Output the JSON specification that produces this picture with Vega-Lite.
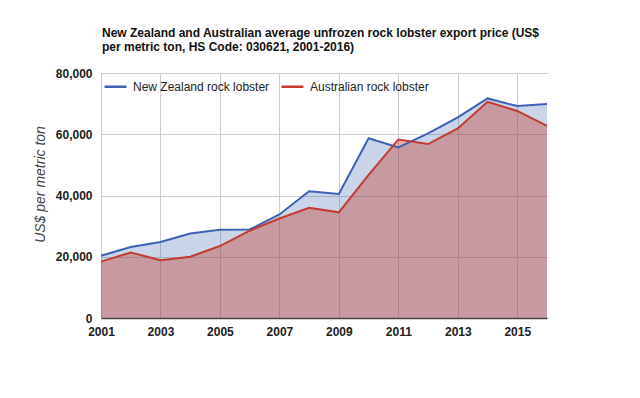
{
  "$schema": "https://vega.github.io/schema/vega-lite/v6.json",
  "width": 446,
  "height": 245,
  "autosize": {"type": "none"},
  "padding": {"left": 101, "top": 73, "right": 93, "bottom": 80},
  "background": "white",
  "title": {
    "text": ["New Zealand and Australian average unfrozen rock lobster export price (US$", "per metric ton, HS Code: 030621, 2001-2016)"],
    "anchor": "start",
    "frame": "group",
    "font": "Liberation Sans",
    "fontSize": 12,
    "fontWeight": "bold",
    "color": "#111",
    "lineHeight": 14,
    "offset": 13,
    "dx": 1
  },
  "config": {
    "view": {"stroke": null},
    "font": "Liberation Sans",
    "title": {"lineHeight": 14}
  },
  "data": {
    "values": [
      {"year": 2001, "series": "New Zealand rock lobster", "value": 20300},
      {"year": 2002, "series": "New Zealand rock lobster", "value": 23200},
      {"year": 2003, "series": "New Zealand rock lobster", "value": 24800},
      {"year": 2004, "series": "New Zealand rock lobster", "value": 27600},
      {"year": 2005, "series": "New Zealand rock lobster", "value": 28800},
      {"year": 2006, "series": "New Zealand rock lobster", "value": 28900},
      {"year": 2007, "series": "New Zealand rock lobster", "value": 33800},
      {"year": 2008, "series": "New Zealand rock lobster", "value": 41400},
      {"year": 2009, "series": "New Zealand rock lobster", "value": 40500},
      {"year": 2010, "series": "New Zealand rock lobster", "value": 58700},
      {"year": 2011, "series": "New Zealand rock lobster", "value": 55700},
      {"year": 2012, "series": "New Zealand rock lobster", "value": 60300},
      {"year": 2013, "series": "New Zealand rock lobster", "value": 65500},
      {"year": 2014, "series": "New Zealand rock lobster", "value": 71700},
      {"year": 2015, "series": "New Zealand rock lobster", "value": 69200},
      {"year": 2016, "series": "New Zealand rock lobster", "value": 69900},
      {"year": 2001, "series": "Australian rock lobster", "value": 18400},
      {"year": 2002, "series": "Australian rock lobster", "value": 21400},
      {"year": 2003, "series": "Australian rock lobster", "value": 18900},
      {"year": 2004, "series": "Australian rock lobster", "value": 20000},
      {"year": 2005, "series": "Australian rock lobster", "value": 23500},
      {"year": 2006, "series": "Australian rock lobster", "value": 28500},
      {"year": 2007, "series": "Australian rock lobster", "value": 32500},
      {"year": 2008, "series": "Australian rock lobster", "value": 36000},
      {"year": 2009, "series": "Australian rock lobster", "value": 34500},
      {"year": 2010, "series": "Australian rock lobster", "value": 46700},
      {"year": 2011, "series": "Australian rock lobster", "value": 58300},
      {"year": 2012, "series": "Australian rock lobster", "value": 56800},
      {"year": 2013, "series": "Australian rock lobster", "value": 61900},
      {"year": 2014, "series": "Australian rock lobster", "value": 70600},
      {"year": 2015, "series": "Australian rock lobster", "value": 67600},
      {"year": 2016, "series": "Australian rock lobster", "value": 62700}
    ]
  },
  "encoding": {
    "x": {
      "field": "year",
      "type": "quantitative",
      "scale": {"domain": [2001, 2016], "nice": false, "zero": false},
      "axis": {
        "title": null,
        "values": [2001, 2003, 2005, 2007, 2009, 2011, 2013, 2015],
        "format": "d",
        "labelFont": "Liberation Sans",
        "labelFontSize": 12,
        "labelFontWeight": "bold",
        "labelColor": "#222",
        "labelPadding": 8,
        "ticks": false,
        "grid": true,
        "gridColor": "#cccccc",
        "gridWidth": 1,
        "domain": true,
        "domainColor": "#444",
        "domainWidth": 1.5,
        "labelFlush": false
      }
    },
    "y": {
      "field": "value",
      "type": "quantitative",
      "scale": {"domain": [0, 80000], "nice": false},
      "axis": {
        "title": "US$ per metric ton",
        "titleFont": "Liberation Sans",
        "titleFontSize": 14,
        "titleFontStyle": "italic",
        "titleFontWeight": "normal",
        "titleColor": "#444",
        "titleAngle": -90,
        "titleX": -61,
        "titleY": 111,
        "titleAlign": "center",
        "titleBaseline": "middle",
        "values": [0, 20000, 40000, 60000, 80000],
        "format": ",d",
        "labelFont": "Liberation Sans",
        "labelFontSize": 12,
        "labelFontWeight": "bold",
        "labelColor": "#222",
        "labelPadding": 9,
        "ticks": false,
        "domain": false,
        "grid": true,
        "gridColor": "#cccccc",
        "gridWidth": 1
      }
    },
    "color": {
      "field": "series",
      "type": "nominal",
      "scale": {
        "domain": ["New Zealand rock lobster", "Australian rock lobster"],
        "range": ["#3d62b3", "#c23b2e"]
      },
      "legend": {
        "title": null,
        "orient": "none",
        "legendX": 2,
        "legendY": 1,
        "direction": "horizontal",
        "symbolType": "stroke",
        "symbolSize": 480,
        "symbolStrokeWidth": 2.5,
        "symbolOpacity": 1,
        "labelFont": "Liberation Sans",
        "labelFontSize": 12,
        "labelColor": "#222",
        "labelOffset": 5,
        "columnPadding": 6
      }
    }
  },
  "layer": [
    {
      "transform": [{"filter": "datum.series === 'New Zealand rock lobster'"}],
      "mark": {"type": "area", "opacity": 0.27},
      "encoding": {"y": {"field": "value", "type": "quantitative", "stack": null}}
    },
    {
      "transform": [{"filter": "datum.series === 'Australian rock lobster'"}],
      "mark": {"type": "area", "opacity": 0.39},
      "encoding": {"y": {"field": "value", "type": "quantitative", "stack": null}}
    },
    {
      "transform": [{"filter": "datum.series === 'New Zealand rock lobster'"}],
      "mark": {"type": "line", "strokeWidth": 2},
      "encoding": {}
    },
    {
      "transform": [{"filter": "datum.series === 'Australian rock lobster'"}],
      "mark": {"type": "line", "strokeWidth": 2},
      "encoding": {}
    }
  ]
}
